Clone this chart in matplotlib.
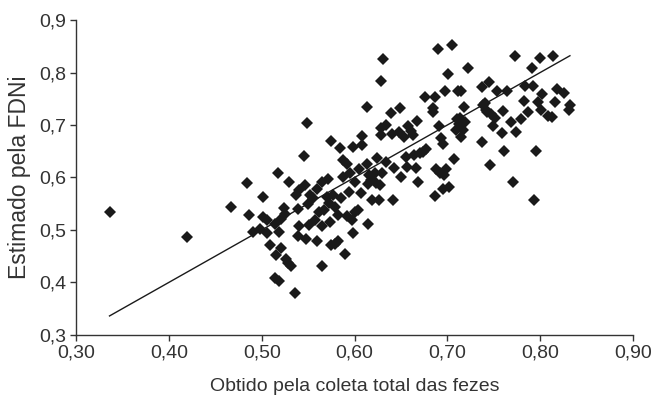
import matplotlib.pyplot as plt
import numpy as np

# values
obtido = [
    0.336, 0.420, 0.467, 0.484, 0.486, 0.491, 0.498, 0.501, 0.501, 0.506,
    0.506, 0.509, 0.514, 0.515, 0.514, 0.519, 0.518, 0.519, 0.521, 0.521,
    0.524, 0.525, 0.526, 0.528, 0.532, 0.529, 0.536, 0.537, 0.539, 0.539,
    0.540, 0.540, 0.545, 0.547, 0.548, 0.549, 0.550, 0.551, 0.552, 0.555,
    0.557, 0.560, 0.559, 0.562, 0.565, 0.565, 0.565, 0.567, 0.570, 0.571,
    0.572, 0.574, 0.575, 0.575, 0.577, 0.579, 0.579, 0.582, 0.582, 0.584,
    0.585, 0.587, 0.588, 0.590, 0.592, 0.592, 0.594, 0.595, 0.597, 0.598,
    0.598, 0.600, 0.601, 0.604, 0.605, 0.607, 0.608, 0.608, 0.613, 0.614,
    0.613, 0.615, 0.616, 0.618, 0.619, 0.622, 0.623, 0.624, 0.626, 0.627,
    0.628, 0.628, 0.629, 0.630, 0.631, 0.634, 0.634, 0.639, 0.640, 0.641,
    0.643, 0.648, 0.649, 0.650, 0.653, 0.655, 0.657, 0.658, 0.661, 0.663,
    0.664, 0.666, 0.667, 0.668, 0.671, 0.674, 0.676, 0.677, 0.684, 0.685,
    0.687, 0.687, 0.688, 0.690, 0.691, 0.692, 0.693, 0.695, 0.695, 0.696,
    0.697, 0.698, 0.701, 0.702, 0.705, 0.707, 0.709, 0.710, 0.711, 0.712,
    0.714, 0.715, 0.715, 0.717, 0.718, 0.719, 0.722, 0.737, 0.737, 0.738,
    0.740, 0.742, 0.743, 0.745, 0.746, 0.747, 0.749, 0.751, 0.753, 0.759,
    0.760, 0.761, 0.764, 0.769, 0.771, 0.773, 0.774, 0.779, 0.782, 0.784,
    0.787, 0.791, 0.792, 0.793, 0.795, 0.798, 0.800, 0.801, 0.802, 0.808,
    0.813, 0.814, 0.816, 0.818, 0.826, 0.831, 0.832,
]
estimado = [
    0.534, 0.486, 0.544, 0.590, 0.528, 0.496, 0.501, 0.562, 0.524, 0.519,
    0.494, 0.471, 0.512, 0.453, 0.408, 0.402, 0.608, 0.496, 0.466, 0.521,
    0.541, 0.530, 0.445, 0.437, 0.432, 0.592, 0.380, 0.567, 0.539, 0.488,
    0.508, 0.577, 0.641, 0.585, 0.483, 0.703, 0.549, 0.510, 0.566, 0.561,
    0.519, 0.478, 0.578, 0.535, 0.431, 0.508, 0.592, 0.537, 0.563, 0.597,
    0.551, 0.516, 0.670, 0.471, 0.567, 0.473, 0.544, 0.478, 0.529, 0.656,
    0.561, 0.601, 0.633, 0.454, 0.527, 0.625, 0.573, 0.608, 0.519, 0.658,
    0.494, 0.592, 0.534, 0.537, 0.617, 0.570, 0.679, 0.662, 0.734, 0.511,
    0.626, 0.587, 0.604, 0.595, 0.557, 0.609, 0.589, 0.638, 0.557, 0.586,
    0.784, 0.694, 0.681, 0.608, 0.825, 0.630, 0.700, 0.722, 0.682, 0.557,
    0.618, 0.687, 0.732, 0.601, 0.678, 0.639, 0.620, 0.698, 0.689, 0.681,
    0.642, 0.618, 0.708, 0.592, 0.646, 0.649, 0.753, 0.654, 0.732, 0.724,
    0.753, 0.564, 0.616, 0.845, 0.698, 0.608, 0.675, 0.664, 0.578, 0.604,
    0.765, 0.617, 0.797, 0.582, 0.852, 0.635, 0.691, 0.712, 0.765, 0.701,
    0.714, 0.678, 0.764, 0.691, 0.735, 0.706, 0.809, 0.668, 0.773, 0.738,
    0.741, 0.729, 0.725, 0.781, 0.624, 0.720, 0.699, 0.713, 0.764, 0.684,
    0.726, 0.651, 0.765, 0.705, 0.592, 0.832, 0.686, 0.711, 0.745, 0.774,
    0.725, 0.808, 0.774, 0.557, 0.651, 0.744, 0.827, 0.729, 0.759, 0.718,
    0.715, 0.831, 0.743, 0.768, 0.760, 0.729, 0.738,
]

# trend line as seen in the figure
trend_slope = 1.0
trend_intercept = 0.0

x_ticks = [0.30, 0.40, 0.50, 0.60, 0.70, 0.80, 0.90]
y_ticks = [0.3, 0.4, 0.5, 0.6, 0.7, 0.8, 0.9]

plt.rcParams["font.family"] = ["Liberation Sans", "DejaVu Sans"]

fig = plt.figure(figsize=(6.56, 4.01), dpi=100)
ax = fig.add_axes([0.116, 0.165, 0.849, 0.785])

ax.plot(obtido, estimado, linestyle="none", marker="D", markersize=6.5,
        color="#1a1a1a", markeredgewidth=0)

xs = np.array([min(obtido), max(obtido)])
ax.plot(xs, trend_intercept + trend_slope * xs, color="#1a1a1a", linewidth=1)

ax.set_xlim(0.30, 0.90)
ax.set_ylim(0.3, 0.9)
ax.set_xticks(x_ticks)
ax.set_yticks(y_ticks)
ax.set_xticklabels([f"{t:.2f}".replace(".", ",") for t in x_ticks])
ax.set_yticklabels([f"{t:.1f}".replace(".", ",") for t in y_ticks])

for side in ["top", "right"]:
    ax.spines[side].set_visible(False)
for side in ["left", "bottom"]:
    ax.spines[side].set_color("#333333")
    ax.spines[side].set_linewidth(1)
ax.tick_params(direction="out", length=4, width=1, color="#333333",
               labelsize=14, labelcolor="#333333", pad=3)

ax.set_xlabel("Obtido pela coleta total das fezes", fontsize=14,
              color="#333333", labelpad=12)
ax.set_ylabel("Estimado pela FDNi", fontsize=16.5, color="#333333",
              labelpad=6)

fig.savefig("out.png", dpi=100)
